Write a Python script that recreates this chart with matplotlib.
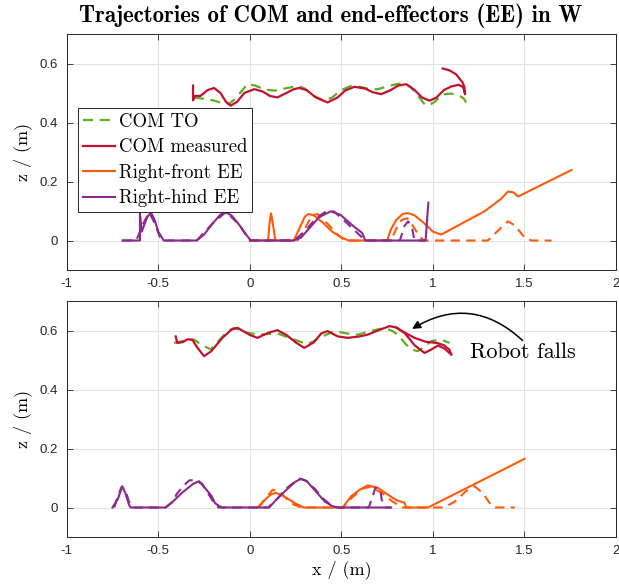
import matplotlib
matplotlib.use("Agg")
import matplotlib.pyplot as plt
import numpy as np

# ---------------- data: top panel ----------------
top_com_to_x = [-0.305, -0.27, -0.25, -0.20, -0.15, -0.113, -0.08, -0.04, -0.013, 0.03, 0.08, 0.133, 0.19, 0.261, 0.30, 0.35, 0.407, 0.45, 0.50, 0.553, 0.61, 0.66, 0.699, 0.75, 0.80, 0.845, 0.88, 0.92, 0.95, 0.973, 1.01, 1.04, 1.064, 1.10, 1.146, 1.17, 1.182]
top_com_to_z = [0.485, 0.482, 0.480, 0.475, 0.466, 0.463, 0.480, 0.510, 0.530, 0.525, 0.512, 0.508, 0.515, 0.524, 0.515, 0.490, 0.474, 0.485, 0.510, 0.524, 0.520, 0.512, 0.513, 0.522, 0.530, 0.533, 0.520, 0.490, 0.465, 0.457, 0.470, 0.490, 0.496, 0.498, 0.491, 0.480, 0.468]

top_com_x = [-0.31, -0.31, -0.30, -0.27, -0.23, -0.195, -0.16, -0.13, -0.104, -0.07, -0.03, 0.024, 0.07, 0.11, 0.151, 0.20, 0.24, 0.27, 0.31, 0.36, 0.425, 0.48, 0.52, 0.571, 0.63, 0.67, 0.717, 0.77, 0.81, 0.854, 0.90, 0.94, 0.981, 1.02, 1.06, 1.10, 1.14, 1.165, 1.176, 1.172, 1.163, 1.127, 1.09, 1.054]
top_com_z = [0.525, 0.475, 0.490, 0.490, 0.510, 0.517, 0.500, 0.470, 0.457, 0.470, 0.500, 0.513, 0.505, 0.490, 0.485, 0.500, 0.513, 0.517, 0.510, 0.485, 0.468, 0.485, 0.508, 0.521, 0.515, 0.503, 0.496, 0.510, 0.525, 0.530, 0.510, 0.485, 0.474, 0.485, 0.510, 0.522, 0.528, 0.520, 0.496, 0.520, 0.535, 0.563, 0.577, 0.583]

top_rf_to_x = [0.0, 0.26, 0.30, 0.34, 0.37, 0.42, 0.48, 0.52, 0.77, 0.80, 0.83, 0.86, 0.89, 0.92, 0.95, 1.30, 1.35, 1.41, 1.45, 1.50, 1.538, 1.648]
top_rf_to_z = [0.0, 0.0, 0.040, 0.085, 0.090, 0.060, 0.020, 0.0, 0.0, 0.040, 0.070, 0.075, 0.050, 0.020, 0.0, 0.0, 0.030, 0.065, 0.050, 0.010, 0.0, 0.0]

top_rf_x = [0.0, 0.10, 0.108, 0.116, 0.125, 0.139, 0.24, 0.27, 0.30, 0.32, 0.35, 0.40, 0.45, 0.50, 0.54, 0.75, 0.77, 0.80, 0.835, 0.863, 0.90, 0.95, 1.00, 1.045, 1.282, 1.37, 1.41, 1.44, 1.465, 1.757]
top_rf_z = [0.0, 0.0, 0.060, 0.092, 0.060, 0.0, 0.0, 0.040, 0.080, 0.090, 0.085, 0.060, 0.030, 0.010, 0.0, 0.0, 0.037, 0.070, 0.090, 0.093, 0.085, 0.060, 0.030, 0.020, 0.099, 0.140, 0.166, 0.163, 0.149, 0.239]

top_rh_to_x = [-0.695, -0.62, -0.58, -0.55, -0.52, -0.49, -0.46, -0.29, -0.20, -0.13, -0.06, 0.0, 0.24, 0.30, 0.36, 0.42, 0.46, 0.52, 0.58, 0.63, 0.82, 0.845, 0.865, 0.885, 0.90, 0.96]
top_rh_to_z = [0.0, 0.0, 0.060, 0.095, 0.060, 0.010, 0.0, 0.0, 0.060, 0.097, 0.055, 0.0, 0.0, 0.030, 0.075, 0.100, 0.098, 0.065, 0.030, 0.0, 0.0, 0.050, 0.065, 0.045, 0.0, 0.0]

top_rh_x = [-0.695, -0.60, -0.60, -0.59, -0.56, -0.54, -0.52, -0.50, -0.47, -0.29, -0.25, -0.20, -0.16, -0.131, -0.10, -0.06, -0.02, 0.005, 0.24, 0.28, 0.33, 0.38, 0.443, 0.495, 0.567, 0.613, 0.631, 0.96, 0.975]
top_rh_z = [0.0, 0.0, 0.094, 0.030, 0.080, 0.095, 0.070, 0.030, 0.0, 0.0, 0.020, 0.060, 0.088, 0.095, 0.085, 0.055, 0.020, 0.0, 0.0, 0.010, 0.045, 0.080, 0.099, 0.087, 0.048, 0.026, 0.0, 0.0, 0.128]

# ---------------- data: bottom panel ----------------
bot_com_to_x = [-0.414, -0.36, -0.305, -0.26, -0.213, -0.17, -0.12, -0.085, -0.03, 0.042, 0.10, 0.151, 0.23, 0.316, 0.38, 0.461, 0.53, 0.59, 0.66, 0.735, 0.78, 0.808, 0.85, 0.881, 0.918, 0.96, 0.991, 1.045, 1.091]
bot_com_to_z = [0.558, 0.565, 0.569, 0.550, 0.536, 0.565, 0.598, 0.609, 0.595, 0.586, 0.588, 0.590, 0.572, 0.553, 0.575, 0.598, 0.590, 0.586, 0.598, 0.609, 0.598, 0.586, 0.555, 0.536, 0.530, 0.548, 0.564, 0.569, 0.558]

bot_com_x = [-0.405, -0.396, -0.37, -0.34, -0.314, -0.29, -0.25, -0.21, -0.15, -0.10, -0.067, 0.0, 0.042, 0.10, 0.151, 0.20, 0.25, 0.297, 0.35, 0.39, 0.425, 0.48, 0.535, 0.60, 0.644, 0.70, 0.763, 0.80, 0.845, 0.90, 0.954, 0.99, 1.027, 1.06, 1.10]
bot_com_z = [0.580, 0.558, 0.560, 0.570, 0.569, 0.545, 0.513, 0.530, 0.575, 0.603, 0.609, 0.585, 0.575, 0.592, 0.601, 0.585, 0.560, 0.541, 0.560, 0.590, 0.598, 0.580, 0.575, 0.580, 0.586, 0.600, 0.615, 0.610, 0.592, 0.550, 0.524, 0.535, 0.549, 0.540, 0.519]
bot_com2_x = [0.80, 0.84, 0.90, 0.96, 1.02, 1.06, 1.09, 1.10]
bot_com2_z = [0.610, 0.595, 0.575, 0.562, 0.558, 0.550, 0.535, 0.519]

bot_rf_to_x = [0.05, 0.09, 0.125, 0.16, 0.20, 0.24, 0.28, 0.51, 0.56, 0.62, 0.66, 0.72, 0.78, 0.83, 1.06, 1.12, 1.18, 1.228, 1.27, 1.31, 1.337, 1.447]
bot_rf_to_z = [0.0, 0.035, 0.060, 0.055, 0.030, 0.010, 0.0, 0.0, 0.035, 0.065, 0.070, 0.050, 0.020, 0.0, 0.0, 0.020, 0.055, 0.072, 0.050, 0.015, 0.0, 0.0]

bot_rf_x = [0.042, 0.08, 0.115, 0.142, 0.18, 0.22, 0.26, 0.297, 0.507, 0.553, 0.60, 0.644, 0.699, 0.75, 0.80, 0.845, 0.854, 0.973, 1.501]
bot_rf_z = [0.0, 0.025, 0.044, 0.050, 0.040, 0.025, 0.010, 0.0, 0.0, 0.038, 0.060, 0.075, 0.067, 0.045, 0.025, 0.016, 0.0, 0.0, 0.165]

bot_rh_to_x = [-0.74, -0.72, -0.70, -0.68, -0.66, -0.64, -0.46, -0.42, -0.40, -0.36, -0.33, -0.30, -0.26, -0.22, -0.19, -0.17, 0.10, 0.15, 0.21, 0.27, 0.31, 0.36, 0.40, 0.44, 0.48, 0.65, 0.668, 0.686, 0.713, 0.72, 0.74, 0.77]
bot_rh_to_z = [0.0, 0.040, 0.070, 0.060, 0.020, 0.0, 0.0, 0.020, 0.045, 0.075, 0.092, 0.093, 0.080, 0.040, 0.010, 0.0, 0.0, 0.030, 0.070, 0.098, 0.090, 0.060, 0.030, 0.010, 0.0, 0.0, 0.033, 0.067, 0.061, 0.027, 0.0, 0.0]

bot_rh_x = [-0.75, -0.72, -0.70, -0.697, -0.68, -0.66, -0.651, -0.46, -0.42, -0.37, -0.31, -0.277, -0.25, -0.21, -0.19, -0.168, -0.15, 0.106, 0.15, 0.20, 0.25, 0.279, 0.31, 0.367, 0.41, 0.45, 0.477, 0.772]
bot_rh_z = [0.0, 0.030, 0.065, 0.072, 0.050, 0.010, 0.0, 0.0, 0.020, 0.050, 0.080, 0.089, 0.070, 0.040, 0.015, 0.005, 0.0, 0.0, 0.030, 0.060, 0.088, 0.097, 0.090, 0.050, 0.020, 0.005, 0.0, 0.0]

x_ticks = [-1, -0.5, 0, 0.5, 1, 1.5, 2]
x_tick_labels = ['-1', '-0.5', '0', '0.5', '1', '1.5', '2']
z_ticks = [0, 0.2, 0.4, 0.6]
z_tick_labels = ['0', '0.2', '0.4', '0.6']

legend_labels = ['COM TO', 'COM measured', 'Right-front EE', 'Right-hind EE']

# annotation anchor points (data coords)
fall_head = (0.88, 0.603)
fall_tail = (1.49, 0.566)
fall_text = (1.49, 0.527)

# ---------------- style ----------------
C_GREEN = '#5DAE22'
C_RED = '#C4102F'
C_ORANGE = '#FF5A0A'
C_PURPLE = '#8A2A8E'
SERIF = 'cmr10'
SERIF_B = 'cmb10'
TICKFONT = 'Liberation Sans'
LW_COM = 1.6
LW_EE = 1.5
DASH = (0, (4.5, 3.0))

fig = plt.figure(figsize=(6.19, 5.86), dpi=100)
ax1 = fig.add_axes([66.7 / 619, 1 - 270 / 586, (616 - 66.7) / 619, (270 - 34) / 586])
ax2 = fig.add_axes([66.7 / 619, 1 - 537 / 586, (616 - 66.7) / 619, (537 - 301) / 586])


def draw(ax, com_to, com, rf_to, rf, rh_to, rh, extra=None):
    h1, = ax.plot(*com_to, color=C_GREEN, lw=LW_COM, ls=DASH)
    h2, = ax.plot(*com, color=C_RED, lw=LW_COM)
    if extra is not None:
        ax.plot(*extra, color=C_RED, lw=LW_COM)
    ax.plot(*rf_to, color=C_ORANGE, lw=LW_EE, ls=DASH)
    h3, = ax.plot(*rf, color=C_ORANGE, lw=LW_EE)
    ax.plot(*rh_to, color=C_PURPLE, lw=LW_EE, ls=DASH)
    h4, = ax.plot(*rh, color=C_PURPLE, lw=LW_EE)
    ax.set_xlim(-1, 2)
    ax.set_ylim(-0.1, 0.7)
    ax.set_xticks(x_ticks)
    ax.set_xticklabels(x_tick_labels, fontfamily=TICKFONT, fontsize=9.5)
    ax.set_yticks(z_ticks)
    ax.set_yticklabels(z_tick_labels, fontfamily=TICKFONT, fontsize=9.5)
    ax.grid(True, color='#E3E3E3', lw=0.8)
    ax.set_axisbelow(True)
    ax.tick_params(direction='in', length=4, width=0.6, color='#262626',
                   top=True, right=True, labelcolor='#262626', pad=6)
    for s in ax.spines.values():
        s.set_color('#262626')
        s.set_linewidth(0.7)
    ax.set_ylabel('z / (m)', fontfamily=SERIF, fontsize=13, labelpad=6)
    return [h1, h2, h3, h4]


handles = draw(ax1, (top_com_to_x, top_com_to_z), (top_com_x, top_com_z),
               (top_rf_to_x, top_rf_to_z), (top_rf_x, top_rf_z),
               (top_rh_to_x, top_rh_to_z), (top_rh_x, top_rh_z))
draw(ax2, (bot_com_to_x, bot_com_to_z), (bot_com_x, bot_com_z),
     (bot_rf_to_x, bot_rf_to_z), (bot_rf_x, bot_rf_z),
     (bot_rh_to_x, bot_rh_to_z), (bot_rh_x, bot_rh_z),
     extra=(bot_com2_x, bot_com2_z))

leg = ax1.legend(handles, legend_labels, loc='upper left',
                 bbox_to_anchor=(0.021, 0.685), borderaxespad=0,
                 prop={'family': SERIF, 'size': 13.5}, fancybox=False,
                 framealpha=1, edgecolor='#262626', handlelength=1.7,
                 handletextpad=0.2, borderpad=0.25, labelspacing=0.4)
leg.get_frame().set_linewidth(0.7)

ax2.set_xlabel('x / (m)', fontfamily=SERIF, fontsize=13, labelpad=2)

ax2.annotate('', xy=fall_head, xytext=fall_tail,
             arrowprops=dict(arrowstyle='-|>', color='black', lw=1.1,
                             connectionstyle='arc3,rad=0.38',
                             shrinkA=0, shrinkB=1, mutation_scale=12))
ax2.text(*fall_text, 'Robot falls', fontfamily=SERIF, fontsize=16,
         ha='center', va='center')

fig.text(331 / 619, 1 - 16 / 586, 'Trajectories of COM and end-effectors (EE) in W',
         fontfamily=SERIF_B, fontsize=16.5, ha='center', va='center')

fig.savefig('out.png', dpi=100)
